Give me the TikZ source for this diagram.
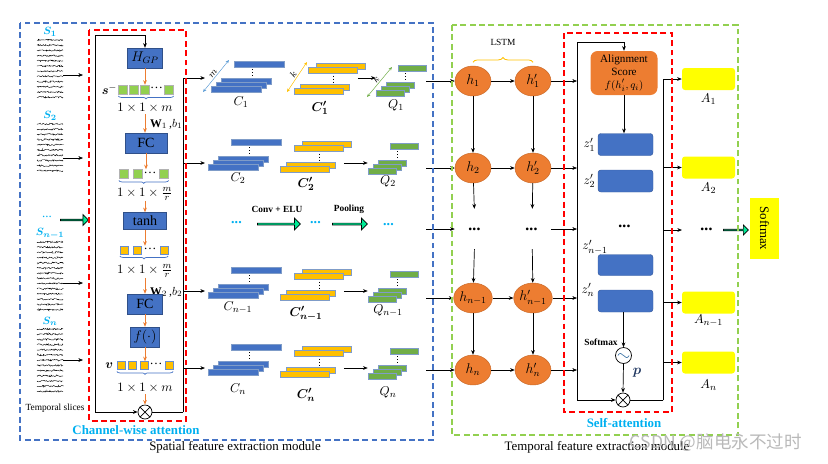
\documentclass[tikz,border=0pt]{standalone}
\usepackage{amsmath,bm}
\usepackage{fontspec}
\setmainfont{Liberation Serif}
\newfontfamily\cjk{Noto Sans CJK SC}
\usetikzlibrary{positioning, arrows.meta, shapes.geometric, shapes.arrows, decorations.pathreplacing, decorations.pathmorphing}

\definecolor{cblue}{HTML}{4472C4}
\definecolor{lblue}{HTML}{5B9BD5}
\definecolor{corange}{HTML}{ED7D31}
\definecolor{cyellow}{HTML}{FFC000}
\definecolor{cgreen}{HTML}{70AD47}
\definecolor{lgreen}{HTML}{92D050}
\definecolor{ccyan}{HTML}{00B0F0}
\definecolor{cspring}{RGB}{0,235,150}
\definecolor{byellow}{HTML}{FFFF00}
\definecolor{cbar}{HTML}{7F9CC8}

\newcommand\pxu{0.03cm}

\begin{document}
\begin{tikzpicture}[
    x=0.03cm, y=-0.03cm,
    font=\fontsize{11}{13}\selectfont,
    >={Stealth[length=4pt,width=3.2pt]},
    every node/.style={inner sep=1pt},
    signal/.style={line width=0.35pt, decorate, decoration={random steps, segment length=0.7pt, amplitude=0.7pt}},
    gate/.style={rectangle, draw=cblue!70!black, fill=cblue, inner sep=0pt, font=\fontsize{12}{14}\selectfont},
    sq/.style={rectangle, draw=gray!60, line width=0.3pt, minimum size=9*\pxu, inner sep=0pt},
    gsq/.style={sq, fill=lgreen},
    ysq/.style={sq, fill=cyellow, draw=cblue!80, minimum size=8*\pxu},
    bar/.style={rectangle, draw=cbar, line width=0.5pt, inner sep=0pt, minimum height=6*\pxu},
    bbar/.style={bar, fill=cblue, minimum width=50*\pxu},
    ybar/.style={bar, fill=cyellow, minimum width=49*\pxu},
    gbar/.style={bar, fill=cgreen, minimum width=28*\pxu},
    gap/.style={dotted, line width=0.6pt},
    brc/.style={cblue, line width=0.6pt, decorate, decoration={brace, mirror, amplitude=2.5pt}},
    oarrow/.style={->, corange, line width=0.6pt},
    mul/.style={circle, draw, line width=0.6pt, minimum size=14*\pxu, inner sep=0pt},
    hcell/.style={ellipse, draw=corange!85!black, fill=corange, minimum width=36*\pxu, minimum height=30*\pxu, inner sep=0pt, font=\fontsize{12}{14}\selectfont},
    zbox/.style={rectangle, rounded corners=2.5pt, fill=cblue, draw=cblue!80!black, line width=0.4pt, minimum width=55*\pxu, minimum height=22*\pxu},
    abox/.style={rectangle, rounded corners=2.5pt, fill=byellow, minimum width=53*\pxu, minimum height=22*\pxu},
    bigarrow/.style={single arrow, draw=black, fill=cspring, line width=0.6pt, minimum width=11*\pxu, single arrow head extend=0.06cm, inner sep=0pt},
    hdots/.style={font=\fontsize{14}{14}\selectfont\bfseries\itshape, inner sep=0pt},
    cdots/.style={font=\fontsize{12}{12}\selectfont\bfseries\itshape, text=ccyan, inner sep=0pt},
    modlabel/.style={font=\fontsize{11}{13}\selectfont},
    attlabel/.style={font=\fontsize{11}{13}\selectfont\bfseries, text=ccyan},
    smalltext/.style={font=\fontsize{8}{9}\selectfont},
    opname/.style={font=\fontsize{8}{9}\selectfont\bfseries},
    wlabel/.style={anchor=west, font=\fontsize{10}{12}\selectfont, inner sep=0pt},
]
\useasboundingbox (0,0) rectangle (828,463);

% Signals
\foreach \ya/\n/\yo/\lab [count=\r] in {40/11/75/S_1, 124/9/158/S_2, 242/13/283/S_{n-1}, 329/12/360/S_n}{
    \foreach \k in {0,...,\n}
        \draw[signal] (37,{\ya+\k*5.2}) -- (63,{\ya+\k*5.2});
    \node[text=ccyan, font=\fontsize{9.5}{11}\selectfont] (slab\r) at (50,\ya-8) {$\bm{\lab}$};
    \coordinate (sigout\r) at (63,\yo);
    \coordinate (sigin\r) at (83,\yo);
    \draw[->] (sigout\r) -- (sigin\r);
}
\node[text=ccyan, inner sep=0pt] (sdotsL) at (47,217) {...};
\node[bigarrow, minimum height=28*\pxu] (inarrow) at (74,220) {};
\node[smalltext] (tslice) at (55,408) {Temporal slices};

% Channel-wise attention
\node[gate, minimum width=35*\pxu, minimum height=20*\pxu] (hgp) at (145,58) {$H_{GP}$};
\foreach \x [count=\k] in {123,134,145} \node[gsq] (s\k) at (\x,89.5) {};
\node[inner sep=0pt] (sdots) at (156.5,88) {\dots};
\node[gsq] (s4) at (169,89.5) {};
\node[anchor=east] (slab) at (s1.west) {$\bm{s}^{-}$};
\draw[brc] ([yshift=-1.5pt]s1.south west) -- ([yshift=-1.5pt]s4.south east);
\node (sdim) at (145,108) {$1\times1\times m$};
\node[wlabel] (w1) at (150,124) {$\mathbf{W}_1$\,,$b_1$};
\node[gate, minimum width=42*\pxu, minimum height=20*\pxu] (fc1) at (146,143) {FC};

\node[gsq] (r1) at (123.5,174) {};
\node[gsq] (r2) at (137.5,174) {};
\node[inner sep=0pt] (rdots) at (150,172.5) {\dots};
\node[gsq] (r3) at (164,174) {};
\draw[brc] ([yshift=-1.5pt]r1.south west) -- ([yshift=-1.5pt]r3.south east);
\node[inner sep=0pt] (rdim) at (145,194) {$1\times1\times\frac{m}{r}$};
\node[gate, minimum width=43*\pxu, minimum height=17*\pxu] (tanh) at (145,221) {tanh};

\node[ysq] (t1) at (124,250) {};
\node[ysq] (t2) at (137,250) {};
\node[inner sep=0pt] (tdots) at (150,248.5) {\dots};
\node[ysq] (t3) at (164,250) {};
\draw[brc] ([yshift=-1.5pt]t1.south west) -- ([yshift=-1.5pt]t3.south east);
\node[inner sep=0pt] (tdim) at (145,271) {$1\times1\times\frac{m}{r}$};
\node[wlabel] (w2) at (150,292) {$\mathbf{W}_2$\,,$b_2$};
\node[gate, minimum width=35*\pxu, minimum height=20*\pxu] (fc2) at (145,304) {FC};
\node[gate, minimum width=29*\pxu, minimum height=20*\pxu] (fx) at (145,337) {$f(\cdot)$};

\foreach \x [count=\k] in {121,132.5,144} \node[ysq] (v\k) at (\x,365.5) {};
\node[inner sep=0pt] (vdots) at (156,364) {\dots};
\node[ysq] (v4) at (169,365.5) {};
\node[anchor=east] (vlab) at ([xshift=-2pt]v1.west) {$\bm{v}$};
\draw[brc] ([yshift=-1.5pt]v1.south west) -- ([yshift=-1.5pt]v4.south east);
\node (vdim) at (145,388) {$1\times1\times m$};
\node[mul] (mul1) at (145,412) {};
\draw[line width=0.6pt] (mul1.north west) -- (mul1.south east) (mul1.north east) -- (mul1.south west);

\draw[oarrow] (hgp.south) -- (s3.north);
\draw[oarrow] (sdim.south) -- (sdim.south |- fc1.north);
\draw[oarrow] (fc1.south) -- (fc1.south |- r1.north);
\draw[oarrow] (rdim.south) -- (rdim.south |- tanh.north);
\draw[oarrow] (tanh.south) -- (tanh.south |- t1.north);
\draw[oarrow] (tdim.south) -- (tdim.south |- fc2.north);
\draw[oarrow] (fc2.south) -- (fx.north);
\draw[oarrow] (fx.south) -- (fx.south |- v1.north);
\draw[oarrow] (vdim.south) -- (mul1.north);

\coordinate (loopTL) at (95,35);
\coordinate (loopBL) at (95,412);
\coordinate (busCB) at (183,412);
\draw[->, line width=0.6pt] (loopBL) -- (loopTL) -| (hgp.north);
\draw[->, line width=0.6pt] (loopBL) -- (mul1.west);
\draw[line width=0.6pt] (mul1.east) -- (busCB);

% Feature maps
\foreach \i/\ya/\ys/\bx/\yx/\gx/\cy [count=\r] in {1/78/85/3/14/8/102, 2/163/163/0/0/0/178, n-1/291/291/0/0/0/308, n/368/368/0/0/0/389}{
    \coordinate (rowin\r) at (205,\ya);
    \node[bbar] (cbt\r) at (256+\bx,\ys-21) {};
    \node[bbar] (cbc\r) at (243+\bx,\ys-3.5) {};
    \node[bbar] (cbb\r) at (238+\bx,\ys) {};
    \node[bbar] (cba\r) at (233+\bx,\ys+4) {};
    \draw[gap] ([xshift=-0.2cm,yshift=-1.5pt]cbt\r.south) -- ([xshift=-0.2cm,yshift=1.5pt]cbt\r.south |- cbc\r.north);
    \node[ybar] (ytb\r) at (327+\yx,\ys-19) {};
    \node[ybar] (ytf\r) at (319+\yx,\ys-14.5) {};
    \node[ybar] (ybb\r) at (310.5+\yx,\ys+2.5) {};
    \node[ybar] (ybf\r) at (304.5+\yx,\ys+6) {};
    \draw[gap] ([yshift=-1.5pt]ytf\r.south) -- ([yshift=1.5pt]ytf\r.south |- ybb\r.north);
    \node[gbar] (gt\r) at (404+\gx,\ys-17) {};
    \node[gbar] (gc\r) at (392.5+\gx,\ys) {};
    \node[gbar] (gb\r) at (387+\gx,\ys+4) {};
    \node[gbar] (ga\r) at (382+\gx,\ys+8) {};
    \draw[gap] ([xshift=-0.2cm,yshift=-1.5pt]gt\r.south) -- ([xshift=-0.2cm,yshift=1.5pt]gt\r.south |- gc\r.north);
    \node (clab\r) at (238+\bx,\cy) {$C_{\i}$};
    \node (cplab\r) at (306+\yx,\cy+6) {$\bm{C'_{\i}}$};
    \node (qlab\r) at (388+\gx,\cy+3) {$Q_{\i}$};
    \draw[->] (ytf\r.east |- rowin\r) -- (ga\r.west |- rowin\r);
}
\foreach \r in {1,...,4} \draw[->, line width=0.6pt] (busCB) |- (rowin\r);

\coordinate (m0) at (203,92);
\coordinate (m1) at (229,60);
\coordinate (k0) at (287,92);
\coordinate (k1) at (307,62);
\coordinate (q0) at (367,97);
\coordinate (q1) at (392,67);
\draw[<->, lblue, >={Stealth[length=3pt,width=2.5pt]}] (m0) -- node[sloped, above, smalltext, text=black] {$m$} (m1);
\draw[<->, cyellow, >={Stealth[length=3pt,width=2.5pt]}] (k0) -- node[sloped, above, smalltext, text=black] {$k$} (k1);
\draw[<->, cgreen, >={Stealth[length=3pt,width=2.5pt]}] (q0) -- node[sloped, above, smalltext, text=black] {$k$} (q1);

\node[cdots] (fd1) at (237,223) {...};
\node[bigarrow, minimum height=43*\pxu, minimum width=12*\pxu] (conv) at (278.5,224) {};
\node[cdots] (fd2) at (316,223) {...};
\node[bigarrow, minimum height=35*\pxu, minimum width=12*\pxu] (pool) at (349.5,224) {};
\node[cdots] (fd3) at (389,225) {...};
\node[opname] (convlab) at (277,209) {Conv + ELU};
\node[opname] (poollab) at (349,209) {Pooling};

% LSTM
\node[hcell] (h1) at (473,81) {$h_1$};
\node[hcell] (hp1) at (533,81) {$h'_1$};
\node[hcell] (h2) at (473,168) {$h_2$};
\node[hcell] (hp2) at (533,168) {$h'_2$};
\node[hdots, minimum height=40*\pxu] (hd) at (475,229) {...};
\node[hdots, minimum height=40*\pxu] (hpd) at (532,229) {...};
\node[hcell] (hn1) at (473,298) {$h_{n-1}$};
\node[hcell] (hpn1) at (533,298) {$h'_{n-1}$};
\node[hcell] (hn) at (473,370) {$h_n$};
\node[hcell] (hpn) at (533,370) {$h'_n$};
\node[smalltext] (lstm) at (503,42) {LSTM};
\draw[cyellow, line width=0.7pt, decorate, decoration={brace, amplitude=4pt}] ([yshift=3pt]h1.north) -- ([yshift=3pt]hp1.north);

\foreach \a/\b in {h1/hp1, h2/hp2, hn1/hpn1, hn/hpn, h1/h2, hp1/hp2, h2/hd, hp2/hpd, hd/hn1, hpd/hpn1, hn1/hn, hpn1/hpn}
    \draw[->, line width=0.6pt] (\a) -- (\b);

\coordinate (qedge) at (426,0);
\foreach \t in {h1, h2, hn1, hn} \draw[->] (\t.west -| qedge) -- (\t.west);
\draw[->] (hd.west -| qedge) -- (hd.west -| h2.west);

% Self-attention
\coordinate (busT) at (577,42);
\coordinate (busB) at (577,400);
\node[rectangle, rounded corners=6pt, fill=corange, minimum width=67*\pxu, minimum height=44*\pxu, align=center, font=\fontsize{9.5}{11}\selectfont] (align) at (624,73) {Alignment\\Score\\$f(h'_i,q_i)$};
\node[zbox] (z1) at (625.5,144.5) {};
\node[zbox] (z2) at (625.5,181) {};
\node[hdots] (zd) at (625,226) {...};
\node[zbox, minimum height=21*\pxu] (zn1) at (625.5,265) {};
\node[zbox] (zn) at (625.5,301) {};
\node[left=1pt of z1] (z1lab) {$z'_1$};
\node[left=1pt of z2] (z2lab) {$z'_2$};
\node (zn1lab) at (595,247) {$z'_{n-1}$};
\node (znlab) at (588,290) {$z'_n$};
\node[circle, draw, line width=0.6pt, minimum size=16*\pxu, inner sep=0pt] (smx) at (623.5,355.5) {};
\draw[lblue!80!black, line width=0.6pt] ([xshift=-0.17cm]smx.center) .. controls ([xshift=-0.05cm,yshift=0.22cm]smx.center) and ([xshift=0.05cm,yshift=-0.22cm]smx.center) .. ([xshift=0.17cm]smx.center);
\node[opname] (smxlab) at (601,342) {Softmax};
\node[mul] (mul2) at (623,400) {};
\draw[line width=0.6pt] (mul2.north west) -- (mul2.south east) (mul2.north east) -- (mul2.south west);
\node[text=cblue!50!black, font=\fontsize{13}{13}\selectfont] (plab) at (637,373) {$\bm{p}$};

\foreach \t in {hp1, hp2, hpn1, hpn} \draw[->] (\t.east) -- (\t.east -| busT);
\draw[->] (hpd.east -| hp2.east) -- (hpd.east -| busT);
\draw[->, line width=0.6pt] (busB) -- (busT) -| (align.north);
\draw[->, line width=0.6pt] (busB) -- (mul2.west);
\draw[->, line width=0.6pt] (align.south) -- (align.south |- z1.north);
\draw[->, line width=0.6pt] (smx.north |- zn.south) -- (smx.north);
\draw[->, line width=0.6pt] (smx.south) -- (mul2.north);

% Outputs
\node[abox] (a1) at (708.5,79) {};
\node[abox] (a2) at (708.5,167.5) {};
\node[abox] (an1) at (708.5,302.5) {};
\node[abox] (an) at (708.5,362.5) {};
\node[below=2pt of a1] (a1lab) {$A_1$};
\node[below=2pt of a2] (a2lab) {$A_2$};
\node[below=0pt of an1] (an1lab) {$A_{n-1}$};
\node[below=4pt of an] (anlab) {$A_n$};
\node[hdots] (adots) at (707,229) {...};
\coordinate (adend) at (682,230);
\coordinate (busR) at (663,400);
\draw[line width=0.6pt] (mul2.east) -- (busR);
\foreach \t in {a1, a2, an1, an} \draw[->, line width=0.6pt] (busR) |- (\t.west);
\draw[->, line width=0.6pt] (busR) |- (adend);
\node[bigarrow, minimum height=25*\pxu, minimum width=10*\pxu] (outarrow) at (735.5,230) {};
\node[rotate=-90, fill=byellow, minimum width=61*\pxu, minimum height=29*\pxu] (smbox) at (764.5,228.5) {Softmax};

% Background
\draw[cblue, dash pattern=on 5pt off 3pt, line width=0.9pt] (20,23) rectangle (433,440);
\draw[red, dash pattern=on 5pt off 3pt, line width=1.1pt] (89,30) rectangle (186,421);
\draw[lgreen, dash pattern=on 5pt off 3pt, line width=0.9pt] (452,25) rectangle (738,435);
\draw[red, dash pattern=on 5pt off 3pt, line width=1.1pt] (564,33) rectangle (672,412);
\node[attlabel] (cwlab) at (136,430) {Channel-wise attention};
\node[attlabel] (salab) at (624,423) {Self-attention};
\node[modlabel] (spmod) at (235,447) {Spatial feature extraction module};
\node[modlabel] (tpmod) at (597,447) {Temporal feature extraction module};
\node[text=gray!55, font=\cjk\fontsize{15}{15}\selectfont] (wm) at (716,443) {CSDN @脑电永不过时};

\end{tikzpicture}
\end{document}
